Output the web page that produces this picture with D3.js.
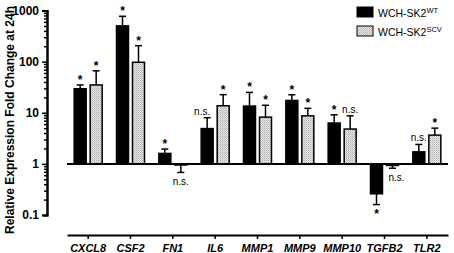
<!DOCTYPE html>
<html>
<head>
<meta charset="utf-8">
<script src="https://cdn.jsdelivr.net/npm/d3@7"></script>
<style>
  body { margin: 0; background: #fff; }
  svg text { font-family: Arial, "Liberation Sans", sans-serif; }
</style>
</head>
<body>
<div id="chart"></div>
<script>
// data
const genes = ['CXCL8', 'CSF2', 'FN1', 'IL6', 'MMP1', 'MMP9', 'MMP10', 'TGFB2', 'TLR2'];
const series = ['WT', 'SCV'];
const wtMean = [29.5, 500, 1.6, 4.9, 13.5, 17.4, 6.3, 0.26, 1.72];
const wtErr = [35, 770, 1.95, 8, 25, 22.5, 9.1, 0.16, 2.4];
const scvMean = [35, 97, 0.95, 13.7, 8.2, 8.7, 4.8, 0.93, 3.65];
const scvErr = [66, 205, 0.68, 22.6, 14, 12.2, 8.7, 0.82, 5];
const wtSig = ['*', '*', '*', 'n.s.', '*', '*', '*', '*', 'n.s.'];
const scvSig = ['*', '*', 'n.s.', '*', '*', '*', 'n.s.', 'n.s.', '*'];
const yTicks = [0.1, 1, 10, 100, 1000];

const W = 454, H = 253;
const svg = d3.select('#chart').append('svg')
    .attr('width', W).attr('height', H);

const defs = svg.append('defs');
const pat = defs.append('pattern')
    .attr('id', 'dots')
    .attr('width', 2).attr('height', 2)
    .attr('patternUnits', 'userSpaceOnUse');
pat.append('rect').attr('width', 2).attr('height', 2).attr('fill', '#e6e6e6');
pat.append('rect').attr('width', 1).attr('height', 1).attr('fill', '#b0b0b0');
pat.append('rect').attr('x', 1).attr('y', 1).attr('width', 1).attr('height', 1).attr('fill', '#c8c8c8');

const x = d3.scaleBand().domain(genes).range([67, 448]).padding(0);
const xs = d3.scaleBand().domain(series).range([-14, 14]).paddingInner(0.25);
const y = d3.scaleLog().domain([0.1, 1000]).range([215, 10.5]);

const rows = genes.flatMap((g, i) => [
    { gene: g, s: 'WT', v: wtMean[i], e: wtErr[i], sig: wtSig[i] },
    { gene: g, s: 'SCV', v: scvMean[i], e: scvErr[i], sig: scvSig[i] }
]);
const cx = d => x(d.gene) + x.bandwidth() / 2;
const bx = d => cx(d) + xs(d.s);

// y axis with log minor ticks
const minor = [];
for (let p = -1; p < 3; p++) for (let k = 2; k <= 9; k++) minor.push(k * Math.pow(10, p));
const yAxisG = svg.append('g').attr('transform', 'translate(47,0)');
yAxisG.call(d3.axisLeft(y).tickValues(minor).tickSize(3).tickFormat(''));
yAxisG.append('g').call(d3.axisLeft(y).tickValues(yTicks).tickSize(5)
    .tickFormat(d => d < 1 ? '0.1' : d3.format('d')(d)));
yAxisG.selectAll('.domain').attr('stroke-width', 2);
yAxisG.selectAll('line').attr('stroke-width', 1.5);
yAxisG.selectAll('text')
    .attr('font-size', 12).attr('font-weight', 'bold').attr('fill', '#000');

svg.append('text')
    .attr('transform', `translate(14,${(3 + 237) / 2}) rotate(-90)`)
    .attr('text-anchor', 'middle')
    .attr('font-size', 12).attr('font-weight', 'bold')
    .text('Relative Expression Fold Change at 24h');

// bars from baseline 1
const base = y(1);
svg.selectAll('.bar').data(rows).enter().append('rect')
    .attr('class', 'bar')
    .attr('x', d => bx(d))
    .attr('width', xs.bandwidth())
    .attr('y', d => Math.min(y(d.v), base))
    .attr('height', d => Math.abs(y(d.v) - base))
    .attr('fill', d => d.s === 'WT' ? '#000' : 'url(#dots)')
    .attr('stroke', '#000').attr('stroke-width', 1.5);

// error bars
const err = svg.selectAll('.err').data(rows).enter().append('g').attr('class', 'err');
err.append('line')
    .attr('x1', d => bx(d) + xs.bandwidth() / 2).attr('x2', d => bx(d) + xs.bandwidth() / 2)
    .attr('y1', d => y(d.v)).attr('y2', d => y(d.e))
    .attr('stroke', '#000').attr('stroke-width', 1.5);
err.append('line')
    .attr('x1', d => bx(d) + xs.bandwidth() / 2 - 3.5).attr('x2', d => bx(d) + xs.bandwidth() / 2 + 3.5)
    .attr('y1', d => y(d.e)).attr('y2', d => y(d.e))
    .attr('stroke', '#000').attr('stroke-width', 1.5);

// baseline at 1
svg.append('line')
    .attr('x1', 67).attr('x2', 448).attr('y1', base).attr('y2', base)
    .attr('stroke', '#000').attr('stroke-width', 2);

// significance marks
svg.selectAll('.sig').data(rows).enter().append('text')
    .attr('class', 'sig')
    .attr('text-anchor', 'middle')
    .attr('font-size', d => d.sig === '*' ? 12 : 10)
    .attr('font-weight', d => d.sig === '*' ? 'bold' : 'normal')
    .attr('x', d => {
        const c = bx(d) + xs.bandwidth() / 2;
        if (d.gene === 'IL6' && d.s === 'WT') return c - 5;
        if (d.gene === 'TGFB2' && d.s === 'SCV') return c + 4;
        return c;
    })
    .attr('y', d => {
        const down = d.v < 1;
        if (d.sig === '*') return down ? y(d.e) + 13 : y(d.e) - 1;
        return down ? y(d.e) + 13 : y(d.e) - 3;
    })
    .text(d => d.sig);

// x axis
const xAxisG = svg.append('g').attr('transform', 'translate(0,235)');
xAxisG.call(d3.axisBottom(x).tickSize(4).tickSizeOuter(0));
xAxisG.selectAll('.domain').attr('stroke-width', 2);
xAxisG.selectAll('line').attr('stroke-width', 1.5);
xAxisG.selectAll('text')
    .attr('font-size', 11).attr('font-weight', 'bold').attr('font-style', 'italic')
    .attr('fill', '#000').attr('dy', '0.95em');

// legend
const legend = svg.append('g').attr('transform', 'translate(357,7)');
series.forEach((s, i) => {
    const g = legend.append('g').attr('transform', `translate(0,${i * 19})`);
    g.append('rect').attr('width', 16).attr('height', 10)
        .attr('fill', s === 'WT' ? '#000' : 'url(#dots)')
        .attr('stroke', '#000').attr('stroke-width', 1);
    const t = g.append('text').attr('x', 21).attr('y', 10).attr('font-size', 10.5);
    t.append('tspan').text('WCH-SK2');
    t.append('tspan').attr('dy', -4).attr('font-size', 7.5).text(s);
});
</script>
</body>
</html>
